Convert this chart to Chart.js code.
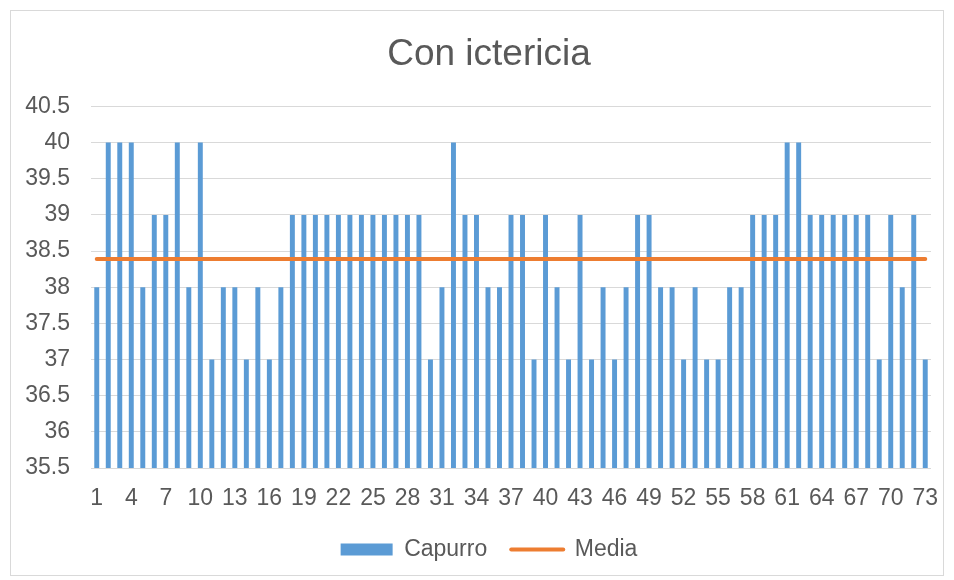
<!DOCTYPE html>
<html>
<head>
<meta charset="utf-8">
<script src="https://cdn.jsdelivr.net/npm/chart.js@4.4.1/dist/chart.umd.min.js"></script>
<style>
    html, body { margin: 0; padding: 0; background: #fff; }
    #frame {
        position: absolute; left: 10px; top: 10px;
        width: 932px; height: 564px;
        border: 1px solid #d9d9d9;
    }
    canvas { display: block; }
</style>
</head>
<body>
<div id="frame"><canvas id="barChart" width="932" height="564"></canvas></div>
<script>
const categories = [
    '1', '2', '3', '4', '5', '6', '7', '8', '9', '10',
    '11', '12', '13', '14', '15', '16', '17', '18', '19', '20',
    '21', '22', '23', '24', '25', '26', '27', '28', '29', '30',
    '31', '32', '33', '34', '35', '36', '37', '38', '39', '40',
    '41', '42', '43', '44', '45', '46', '47', '48', '49', '50',
    '51', '52', '53', '54', '55', '56', '57', '58', '59', '60',
    '61', '62', '63', '64', '65', '66', '67', '68', '69', '70',
    '71', '72', '73'
];
const capurroValues = [
    38, 40, 40, 40, 38, 39, 39, 40, 38, 40,
    37, 38, 38, 37, 38, 37, 38, 39, 39, 39,
    39, 39, 39, 39, 39, 39, 39, 39, 39, 37,
    38, 40, 39, 39, 38, 38, 39, 39, 37, 39,
    38, 37, 39, 37, 38, 37, 38, 39, 39, 38,
    38, 37, 38, 37, 37, 38, 38, 39, 39, 39,
    40, 40, 39, 39, 39, 39, 39, 39, 37, 39,
    38, 39, 37
];
// constant mean line
const mediaValue = 38.39;
const yTicks = { min: 35.5, max: 40.5, step: 0.5 };

const textColor = '#595959';
const gridColor = '#d9d9d9';
const barColor = '#5b9bd5';
const lineColor = '#ed7d31';
const fontFamily = '"Liberation Sans", Arial, sans-serif';

// title and legend sit a bit right of the canvas centre, like in Excel
const shiftBlocks = {
    id: 'shiftBlocks',
    afterLayout(chart) {
        for (const block of [chart.titleBlock, chart.legend]) {
            block.left += 12;
            block.right += 12;
        }
    }
};

const ctx = document.getElementById('barChart');

const cfg = {
    type: 'bar',
    data: {
        labels: categories,
        datasets: [
            {
                label: 'Capurro',
                data: capurroValues,
                backgroundColor: barColor,
                borderWidth: 0,
                barPercentage: 0.43,
                categoryPercentage: 1,
                order: 1
            },
            {
                type: 'line',
                label: 'Media',
                data: categories.map(() => mediaValue),
                borderColor: lineColor,
                backgroundColor: lineColor,
                borderWidth: 4,
                borderCapStyle: 'round',
                pointRadius: 0,
                fill: false,
                order: 0
            }
        ]
    },
    options: {
        responsive: false,
        animation: false,
        layout: { padding: { top: 22, right: 12, left: 12, bottom: 4 } },
        scales: {
            x: {
                offset: true,
                grid: { display: false },
                border: { display: false },
                ticks: {
                    autoSkip: false,
                    maxRotation: 0,
                    padding: 9,
                    color: textColor,
                    font: { family: fontFamily, size: 23 },
                    callback: function (value, index) {
                        return index % 3 === 0 ? this.getLabelForValue(value) : '';
                    }
                },
                afterFit: function (scale) {
                    scale.height = 46;
                    scale.paddingLeft = 0;
                    scale.paddingRight = 0;
                }
            },
            y: {
                min: yTicks.min,
                max: yTicks.max,
                grid: { color: gridColor, lineWidth: 1, drawTicks: false },
                border: { display: false },
                ticks: {
                    stepSize: yTicks.step,
                    padding: 21,
                    color: textColor,
                    font: { family: fontFamily, size: 23 },
                    callback: (v) => (v % 1 === 0 ? String(v) : v.toFixed(1))
                },
                afterFit: function (scale) { scale.width = 68; }
            }
        },
        plugins: {
            title: {
                display: true,
                text: 'Con ictericia',
                color: textColor,
                font: { family: fontFamily, size: 37, weight: 'normal' },
                padding: { top: 0, bottom: 29 }
            },
            legend: {
                position: 'bottom',
                labels: {
                    color: textColor,
                    font: { family: fontFamily, size: 23 },
                    usePointStyle: true,
                    pointStyleWidth: 52,
                    boxHeight: 12,
                    padding: 24,
                    generateLabels: function () {
                        return [
                            { text: 'Capurro', fillStyle: barColor, strokeStyle: barColor, lineWidth: 0, pointStyle: 'rect', fontColor: textColor, datasetIndex: 0 },
                            { text: 'Media', fillStyle: lineColor, strokeStyle: lineColor, lineWidth: 4, lineCap: 'round', pointStyle: 'line', fontColor: textColor, datasetIndex: 1 }
                        ];
                    }
                }
            },
            tooltip: { enabled: false }
        }
    },
    plugins: [shiftBlocks]
};

new Chart(ctx, cfg);
</script>
</body>
</html>
